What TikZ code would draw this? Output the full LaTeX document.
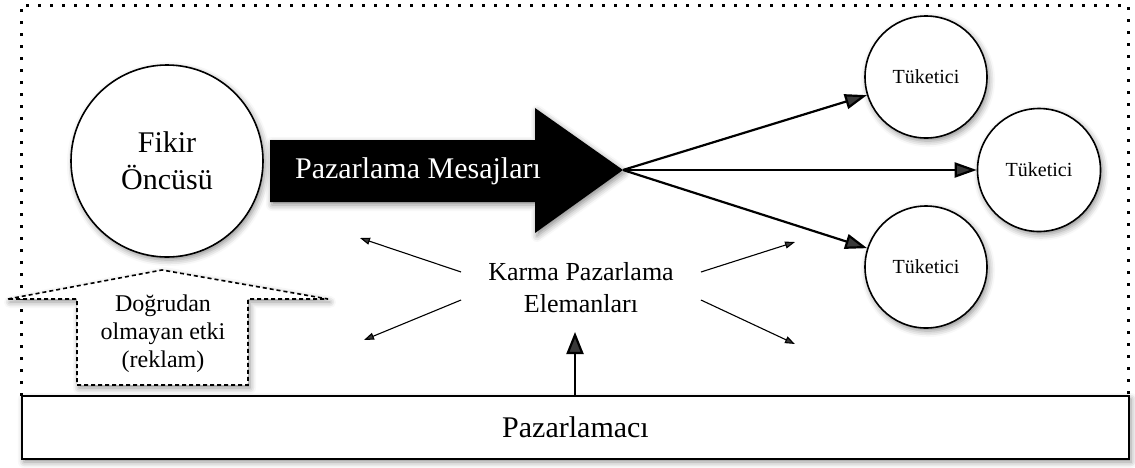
\documentclass[tikz,border=0pt]{standalone}
\usepackage{fontspec}
\setmainfont{Liberation Serif}
\usetikzlibrary{arrows.meta,calc,shadows.blur}

\tikzset{
  soft/.style={blur shadow={shadow xshift=2pt, shadow yshift=-3pt,
      shadow blur radius=6pt, shadow opacity=45}},
  person/.style={circle, draw, line width=1.6pt, fill=white, soft, inner sep=0pt},
  bigfont/.style={font=\fontsize{30}{36}\selectfont},
  fanarrow/.style={line width=2.2pt, -{Triangle[length=22pt,width=15pt]}},
  thinarrow/.style={line width=1.1pt, -{Triangle[length=10pt,width=7pt]}},
  upshaft/.style={line width=2.2pt, -{Triangle[length=22pt,width=17pt]}},
  dotframe/.style={line width=3pt, dash pattern=on 3pt off 9pt},
}

\begin{document}
\begin{tikzpicture}[x=1pt, y=-1pt]
  \useasboundingbox (0,0) rectangle (1135,467);

  % dotted outer frame
  \draw[dotframe] (21,396) -- (21,5) -- (1128,5) -- (1128,396);

  % marketer bar
  \node[draw, line width=1.6pt, fill=white, soft, minimum width=1107pt,
        minimum height=63pt, bigfont] (pz) at (575.5,427.5) {Pazarlamacı};

  % opinion leader
  \node[person, minimum size=192pt, align=center,
        font=\fontsize{30}{37}\selectfont] (fo) at (167,161) {Fikir\\Öncüsü};

  % indirect influence block arrow
  \draw[line width=1.6pt, dash pattern=on 4pt off 3pt, fill=white, soft]
    (8,299) -- (162,270) -- (328,299) -- (248,299) -- (248,385)
    -- (77,385) -- (77,299) -- cycle;
  \node[align=center, font=\fontsize{24}{28}\selectfont] (ind) at (163,334)
    {Doğrudan\\olmayan etki\\(reklam)};

  % marketing messages arrow
  \fill[black, soft] (270,140) -- (535,140) -- (535,108) -- (623,170)
    -- (535,233) -- (535,202) -- (270,202) -- cycle;
  \coordinate (tip) at (623,170);
  \node[text=white, bigfont] (msg) at (418,171) {Pazarlama Mesajları};

  % consumers
  \node[person, minimum size=122pt, font=\fontsize{20}{24}\selectfont] (t1) at (926,77) {Tüketici};
  \node[person, minimum size=123pt, font=\fontsize{20}{24}\selectfont] (t2) at (1039,170) {Tüketici};
  \node[person, minimum size=122pt, font=\fontsize{20}{24}\selectfont] (t3) at (926,267) {Tüketici};

  \draw[fanarrow] (tip) -- (t1);
  \draw[fanarrow] (tip) -- (t2);
  \draw[fanarrow] (tip) -- (t3);

  % marketing mix elements
  \node[align=center, font=\fontsize{26}{32}\selectfont, inner xsep=27pt,
        inner ysep=4pt] (km) at (581,288) {Karma Pazarlama\\Elemanları};

  \coordinate (ul) at (360,238);
  \coordinate (ll) at (364,340);
  \coordinate (ur) at (795,242);
  \coordinate (lr) at (795,344);
  \coordinate (up) at (575,332);

  \draw[thinarrow] ($(km.west)+(0,-16)$) -- (ul);
  \draw[thinarrow] ($(km.west)+(0,12)$) -- (ll);
  \draw[thinarrow] ($(km.east)+(0,-16)$) -- (ur);
  \draw[thinarrow] ($(km.east)+(0,12)$) -- (lr);

  \draw[upshaft] (pz.north -| up) -- (up);
\end{tikzpicture}
\end{document}
